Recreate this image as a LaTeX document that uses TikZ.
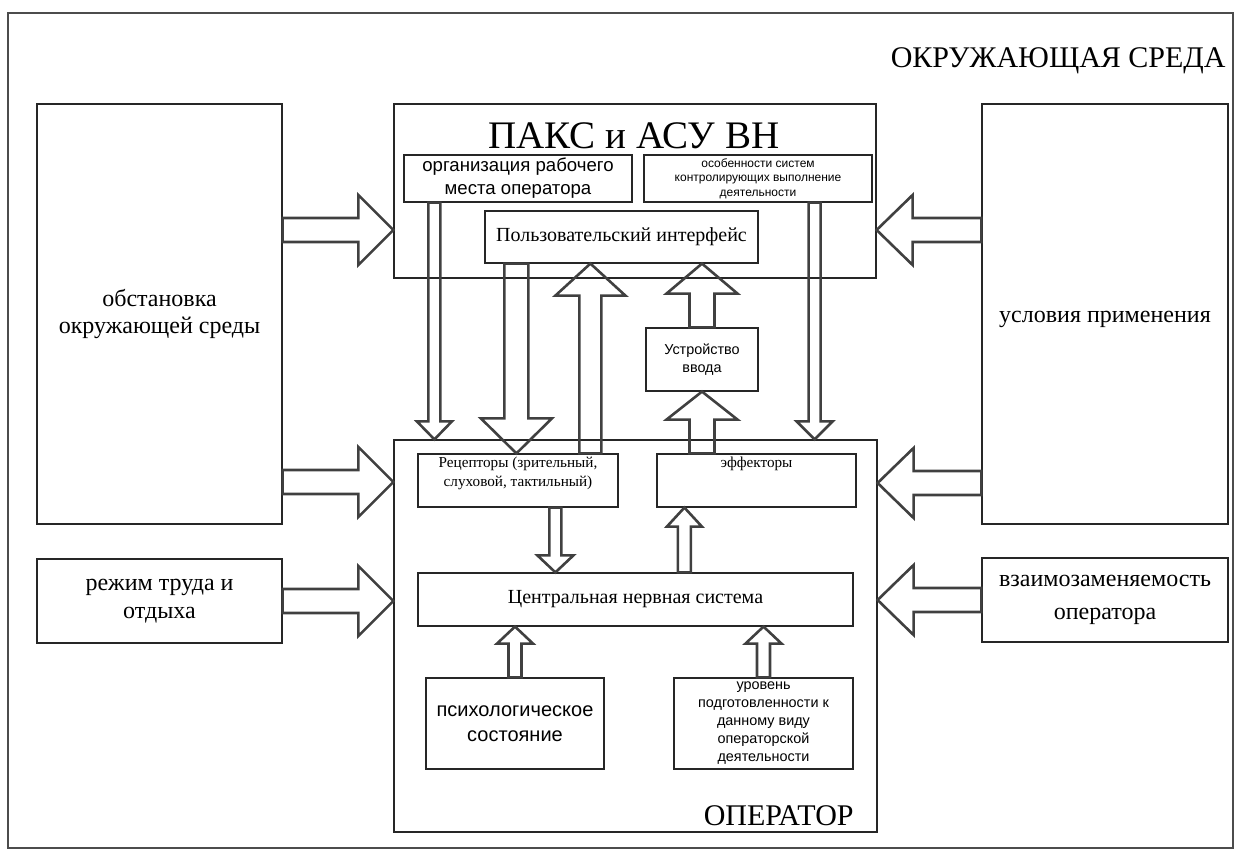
\documentclass[tikz,border=0pt]{standalone}
\usepackage{fontspec}
\setmainfont{Liberation Serif}
\newfontfamily\arial{Liberation Sans}
\usetikzlibrary{
  calc,
  positioning
}
\tikzset{
  box/.style={draw=black!85, line width=0.6pt, rectangle, align=center, inner sep=1pt},
  hollow/.style={draw=black!75, line width=1.3pt, line join=miter},
  frame/.style={draw=black!70, line width=0.6pt},
  title/.style={anchor=base east, inner sep=0pt, font={\fs{15}{18}}},
}
\newcommand{\fs}[2]{\fontsize{#1}{#2}\selectfont}
% hollow block arrow: start, tip, shaft half width, head half width, head length
\newcommand{\barrow}[5]{%
  \coordinate (ba-s) at (#1);
  \coordinate (ba-t) at (#2);
  \coordinate (ba-h) at ($(ba-t)!#5!(ba-s)$);
  \draw[hollow] ($(ba-s)!#3!90:(ba-t)$) -- ($(ba-h)!#3!90:(ba-t)$) -- ($(ba-h)!#4!90:(ba-t)$)
    -- (ba-t) -- ($(ba-h)!#4!-90:(ba-t)$) -- ($(ba-h)!#3!-90:(ba-t)$) -- ($(ba-s)!#3!-90:(ba-t)$) -- cycle;
}

\begin{document}
\begin{tikzpicture}[x=0.5pt,y=-0.5pt]
\useasboundingbox (0,0) rectangle (1241,865);

% environment frame
\draw[frame] (8,13) rectangle (1233,848);
\node[title] (envT) at (1226,68) {ОКРУЖАЮЩАЯ СРЕДА};

% side boxes
\node[box, minimum width=122.5pt, minimum height=210pt, font={\fs{12}{13.5}}] (env) at (159.5,314) {обстановка\\окружающей среды};
\node[box, minimum width=122.5pt, minimum height=42pt, font={\fs{12}{14}}] (rest) at (159.5,601) {режим труда и\\отдыха};
\node[box, minimum width=123pt, minimum height=210pt, font={\fs{12}{14}}, text height=12pt, text depth=3pt] (cond) at (1105,314) {условия применения};
\node[box, minimum width=123pt, minimum height=42pt, font={\fs{12}{16.5}}] (swap) at (1105,600) {взаимозаменяемость\\оператора};

% ПАКС и АСУ ВН
\node[box, minimum width=241pt, minimum height=87pt] (paks) at (635,191) {};
\node[anchor=base, font={\fs{19.5}{22}}] (paksT) at (634,149) {ПАКС и АСУ ВН};
\node[box, minimum width=114pt, minimum height=23.5pt, font={\arial\fs{9.3}{11.5}}] (org) at (518,178.5) {организация рабочего\\места оператора};
\node[box, minimum width=114pt, minimum height=23.5pt, font={\arial\fs{6}{7.2}}] (ctrl) at (758,178.5) {особенности систем\\контролирующих выполнение\\деятельности};
\node[box, minimum width=136.5pt, minimum height=26pt, font={\fs{10}{12}}] (ui) at (621.5,237) {Пользовательский интерфейс};
\node[box, minimum width=56pt, minimum height=31.5pt, font={\arial\fs{7.2}{9}}] (inp) at (702,359.5) {Устройство\\ввода};

% operator
\node[box, minimum width=241.5pt, minimum height=196pt] (opr) at (635.5,636) {};
\node[title] (oprT) at (854,825) {ОПЕРАТОР};
\node[box, minimum width=100pt, minimum height=26.5pt] (rec) at (518,480.5) {};
\node[box, minimum width=99.5pt, minimum height=26.5pt] (eff) at (756.5,480.5) {};
\node[anchor=north, align=center, inner sep=0pt, font={\fs{7.6}{9.5}}] (recT) at ([yshift=-1.5pt]rec.north) {Рецепторы (зрительный,\\слуховой, тактильный)};
\node[anchor=north, inner sep=0pt, font={\fs{7.6}{9.5}}] (effT) at ([yshift=-1.5pt]eff.north) {эффекторы};
\node[box, minimum width=217.5pt, minimum height=26.5pt, font={\fs{10}{12}}] (cns) at (635.5,599.5) {Центральная нервная система};
\node[box, minimum width=89pt, minimum height=45.5pt, font={\arial\fs{10}{12.5}}] (psy) at (515,723.5) {психологическое\\состояние};
\node[box, minimum width=89.5pt, minimum height=45.5pt, font={\arial\fs{7.2}{9}}] (lvl) at (763.5,723.5) {уровень\\подготовленности к\\данному виду\\операторской\\деятельности};

% arrows from the sides
\coordinate (l1) at ([yshift=42pt]env.east);
\barrow{l1}{l1 -| paks.west}{6pt}{17.5pt}{17.5pt}
\coordinate (l2) at ([yshift=-84pt]env.east);
\barrow{l2}{l2 -| opr.west}{6pt}{17.5pt}{17.5pt}
\barrow{rest.east}{rest.east -| opr.west}{6pt}{17.5pt}{17.5pt}
\coordinate (r1) at ([yshift=42pt]cond.west);
\barrow{r1}{r1 -| paks.east}{6pt}{17.5pt}{18pt}
\coordinate (r2) at ([yshift=-84.5pt]cond.west);
\barrow{r2}{r2 -| opr.east}{6pt}{17.5pt}{18pt}
\barrow{swap.west}{swap.west -| opr.east}{6pt}{17.5pt}{18pt}

% between ПАКС and operator
\coordinate (a1) at ([xshift=15.5pt]org.south west);
\barrow{a1}{a1 |- opr.north}{3pt}{8.75pt}{9pt}
\coordinate (a6) at ([xshift=-29pt]ctrl.south east);
\barrow{a6}{a6 |- opr.north}{3pt}{9pt}{9pt}
\coordinate (a2) at ([xshift=16pt]ui.south west);
\barrow{a2}{a2 |- rec.north}{6pt}{17.75pt}{17.5pt}
\coordinate (a3) at ([xshift=86.5pt]rec.north west);
\barrow{a3}{a3 |- ui.south}{5.5pt}{17.5pt}{16pt}
\barrow{inp.north}{inp.north |- ui.south}{6.25pt}{17.75pt}{15pt}
\barrow{inp.south |- eff.north}{inp.south}{6.25pt}{17.75pt}{14pt}

% inside operator
\coordinate (a7) at ([xshift=69pt]rec.south west);
\barrow{a7}{a7 |- cns.north}{3pt}{9pt}{8.5pt}
\coordinate (a8) at ([xshift=133.5pt]cns.north west);
\barrow{a8}{a8 |- eff.south}{3.25pt}{8.75pt}{9.5pt}
\barrow{psy.north}{psy.north |- cns.south}{3.25pt}{9pt}{8.5pt}
\barrow{lvl.north}{lvl.north |- cns.south}{3.25pt}{9pt}{8.5pt}

\end{tikzpicture}
\end{document}
